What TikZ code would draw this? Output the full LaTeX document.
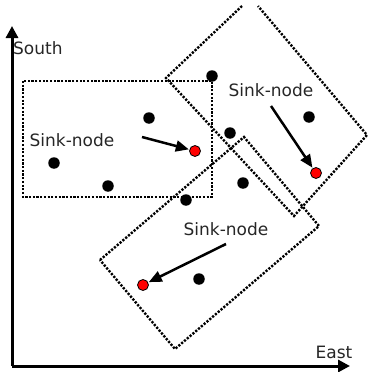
\documentclass[tikz,border=0pt]{standalone}
\usepackage{fontspec}
\setmainfont{DejaVu Sans}
\usetikzlibrary{arrows.meta}
\tikzset{
  region/.style={line width=2.4pt, dash pattern=on 2.2pt off 1.5pt},
  sensor/.style={circle, fill=black, inner sep=0pt, minimum size=11.5pt},
  sink/.style={circle, fill=red, draw=black, line width=0.8pt, inner sep=0pt, minimum size=11pt},
  lbl/.style={font=\fontsize{17}{20}\selectfont, text=black!85, inner sep=0pt},
  axis/.style={line width=3pt, -{Triangle[length=12pt,width=12pt]}},
  pointer/.style={line width=2.5pt, -{Triangle[length=13pt,width=11pt]}, shorten >=0.5pt}
}
\begin{document}
\begin{tikzpicture}[x=1pt,y=-1pt]
\useasboundingbox (0,0) rectangle (376,372);
% axes
\coordinate (O) at (12,366);
\coordinate (N) at (12,26);
\coordinate (E) at (350,366);
\draw[axis] (O) -- (N);
\draw[axis] (O) -- (E);
\node[lbl, anchor=west] (south) at (13,48) {South};
\node[lbl] (east) at (334,352) {East};
% regions
\draw[region] (23,81) rectangle (212,197);
\draw[region] (242,6) -- (166,78) -- (294,216) -- (367,135) -- (258,6);
\draw[region] (100,260) -- (244,137) -- (319,226) -- (175,349) -- cycle;
% sensors
\node[sensor] (s1) at (149,118) {};
\node[sensor] (s2) at (54,163) {};
\node[sensor] (s3) at (108,186) {};
\node[sensor] (s4) at (212,76) {};
\node[sensor] (s5) at (309,117) {};
\node[sensor] (s6) at (230,133) {};
\node[sensor] (s7) at (243,183) {};
\node[sensor] (s8) at (186,200) {};
\node[sensor] (s9) at (199,279) {};
% sinks
\node[sink] (k1) at (195,151) {};
\node[sink] (k2) at (316,173) {};
\node[sink] (k3) at (143,285) {};
% labels
\node[lbl] (l1) at (72,140) {Sink-node};
\node[lbl] (l2) at (271,90) {Sink-node};
\node[lbl] (l3) at (226,229) {Sink-node};
% pointers
\coordinate (a1) at (142,137);
\coordinate (a2) at (271,106);
\coordinate (a3) at (226,244);
\draw[pointer] (a1) -- (k1);
\draw[pointer] (a2) -- (k2);
\draw[pointer] (a3) -- (k3);
\end{tikzpicture}
\end{document}
